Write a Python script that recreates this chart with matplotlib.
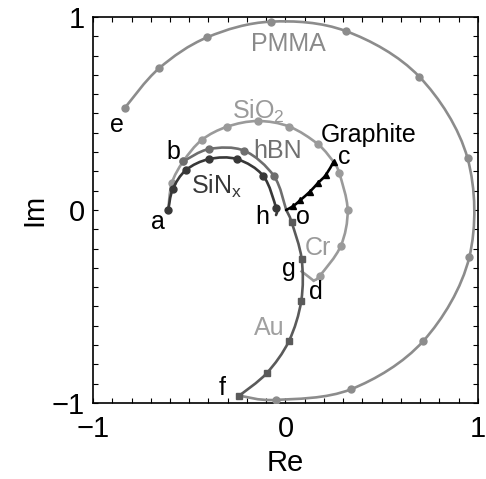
import numpy as np
import matplotlib
matplotlib.use("Agg")
import matplotlib.pyplot as plt
from matplotlib.path import Path
from matplotlib.patches import PathPatch
from matplotlib.ticker import MultipleLocator

plt.rcParams['font.family'] = ['Liberation Sans', 'DejaVu Sans']
plt.rcParams['mathtext.fontset'] = 'custom'
plt.rcParams['mathtext.rm'] = 'Liberation Sans'
plt.rcParams['mathtext.default'] = 'regular'

# Trajectories in the complex plane (Re, Im)
pmma_re = [-0.834, -0.657, -0.406, -0.075, 0.314, 0.695, 0.946, 0.955, 0.716, 0.340, -0.049, -0.240]
pmma_im = [0.530, 0.734, 0.895, 0.976, 0.927, 0.691, 0.268, -0.245, -0.679, -0.929, -0.984, -0.962]

sio2_re = [-0.609, -0.591, -0.531, -0.435, -0.302, -0.144, 0.020, 0.170, 0.252]
sio2_im = [0.000, 0.138, 0.252, 0.363, 0.432, 0.461, 0.432, 0.340, 0.247]

cr_re = [0.252, 0.280, 0.323, 0.287, 0.179, 0.146]
cr_im = [0.247, 0.190, 0.000, -0.187, -0.340, -0.366]
cr_tail_re = [0.146, 0.084]
cr_tail_im = [-0.366, -0.318]

hbn_re = [-0.531, -0.396, -0.214, -0.060, 0.004]
hbn_im = [0.252, 0.316, 0.307, 0.176, 0.000]

sinx_re = [-0.609, -0.586, -0.517, -0.396, -0.250, -0.115, -0.049, -0.049]
sinx_im = [0.000, 0.107, 0.207, 0.264, 0.263, 0.176, 0.012, -0.026]

au_re = [0.004, 0.032, 0.084, 0.082, 0.018, -0.098, -0.240]
au_im = [0.000, -0.064, -0.254, -0.470, -0.679, -0.846, -0.962]

graphite_re = [0.003, 0.040, 0.077, 0.127, 0.167, 0.210, 0.250]
graphite_im = [0.000, 0.020, 0.051, 0.095, 0.138, 0.182, 0.250]

# point labels
point_names = ['a', 'b', 'c', 'd', 'e', 'f', 'g', 'h', 'o']
point_re = [-0.661, -0.583, 0.304, 0.158, -0.874, -0.331, 0.018, -0.120, 0.093]
point_im = [-0.060, 0.302, 0.276, -0.423, 0.440, -0.924, -0.307, -0.038, -0.035]


def smooth_path(x, y):
    # Catmull-Rom through the points, drawn as cubic beziers
    pts = np.column_stack([x, y])
    p = np.vstack([pts[0], pts, pts[-1]])
    verts = [pts[0]]
    codes = [Path.MOVETO]
    for i in range(1, len(p) - 2):
        c1 = p[i] + (p[i + 1] - p[i - 1]) / 6
        c2 = p[i + 1] - (p[i + 2] - p[i]) / 6
        verts += [c1, c2, p[i + 1]]
        codes += [Path.CURVE4] * 3
    return Path(verts, codes)


def curve(ax, x, y, color, lw=1.9, z=2):
    ax.add_patch(PathPatch(smooth_path(x, y), fill=False, ec=color, lw=lw,
                           capstyle='round', joinstyle='round', zorder=z))


fig = plt.figure(figsize=(4.86, 4.79), dpi=100)
ax = fig.add_axes([0.1914, 0.1587, 0.792, 0.8058])

c_pmma = '#8c8c8c'
c_sio2 = '#9a9a9a'
c_hbn = '#6e6e6e'
c_sinx = '#383838'
c_au = '#5a5a5a'

curve(ax, pmma_re, pmma_im, c_pmma)
ax.plot(pmma_re[:-1], pmma_im[:-1], 'o', color=c_pmma, ms=5, zorder=3)

curve(ax, sio2_re, sio2_im, c_sio2)
ax.plot(sio2_re[1:-1], sio2_im[1:-1], 'o', color=c_sio2, ms=5, zorder=3)
curve(ax, cr_re, cr_im, c_sio2)
ax.plot(cr_re[1:-1], cr_im[1:-1], 'o', color=c_sio2, ms=5, zorder=3)
ax.plot(cr_tail_re, cr_tail_im, color=c_sio2, lw=1.9, zorder=2)

curve(ax, hbn_re, hbn_im, c_hbn, z=4)
ax.plot(hbn_re[:-1], hbn_im[:-1], 'o', color=c_hbn, ms=5, zorder=4)

curve(ax, sinx_re, sinx_im, c_sinx, z=5)
ax.plot(sinx_re[:-1], sinx_im[:-1], 'o', color=c_sinx, ms=5, zorder=5)

curve(ax, au_re, au_im, c_au, z=5)
ax.plot(au_re[1:], au_im[1:], 's', color=c_au, ms=5, zorder=5)

curve(ax, graphite_re, graphite_im, 'black', z=6)
ax.plot(graphite_re[1:], graphite_im[1:], '^', color='black', ms=4, zorder=6)

# material labels
fs = 18
ax.text(0.013, 0.858, 'PMMA', color='#8a8a8a', fontsize=fs, ha='center', va='center')
ax.text(-0.141, 0.472, 'SiO$_2$', color='#9a9a9a', fontsize=fs, ha='center', va='baseline')
ax.text(-0.039, 0.271, 'hBN', color='#707070', fontsize=fs, ha='center', va='baseline')
ax.text(0.430, 0.354, 'Graphite', color='black', fontsize=fs, ha='center', va='baseline')
ax.text(-0.492, 0.086, 'SiN$_x$', color='#383838', fontsize=fs, ha='left', va='baseline')
ax.text(0.170, -0.199, 'Cr', color='#9a9a9a', fontsize=fs, ha='center', va='center')
ax.text(-0.086, -0.613, 'Au', color='#a0a0a0', fontsize=fs, ha='center', va='center')

for name, px, py in zip(point_names, point_re, point_im):
    ax.text(px, py, name, color='black', fontsize=fs, ha='center', va='center', zorder=7)

ax.set_xlim(-1, 1)
ax.set_ylim(-1, 1)
ax.set_xticks([-1, 0, 1])
ax.set_yticks([-1, 0, 1])
ax.xaxis.set_minor_locator(MultipleLocator(0.1))
ax.yaxis.set_minor_locator(MultipleLocator(0.1))
ax.tick_params(which='both', direction='in', top=True, right=True, length=3.5, width=0.8)
ax.tick_params(axis='x', which='major', labelsize=21, pad=9)
ax.tick_params(axis='y', which='major', labelsize=21, pad=6)
for s in ax.spines.values():
    s.set_linewidth(1.2)

ax.set_xlabel('Re', fontsize=21, labelpad=4)
ax.set_ylabel('Im', fontsize=21, labelpad=2)

fig.savefig('out.png', dpi=100)
